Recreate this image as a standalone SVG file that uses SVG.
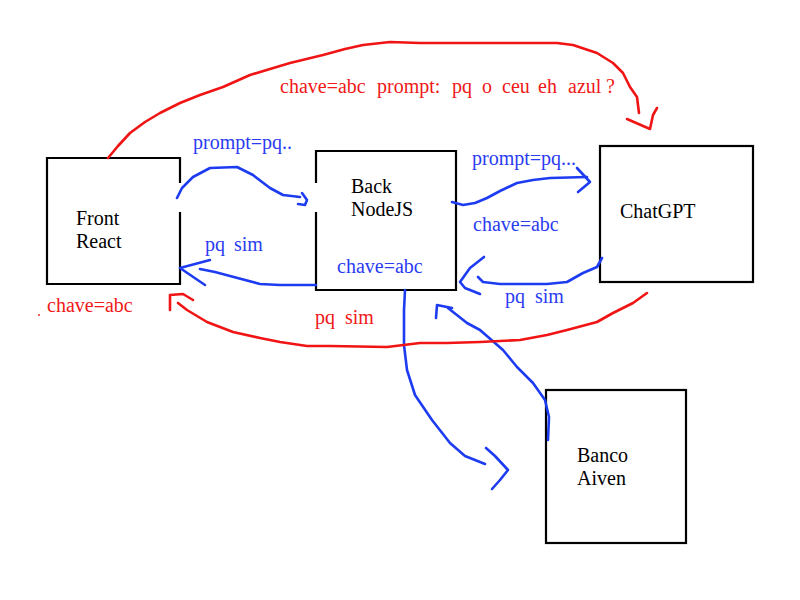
<svg xmlns="http://www.w3.org/2000/svg" width="800" height="600" viewBox="0 0 800 600">
<style>
.box{fill:none;stroke:#000;stroke-width:2.2}
.lbl{font-family:"Liberation Serif","Times New Roman",serif;font-size:20px;fill:#000}
.bt{font-family:"Liberation Serif","Times New Roman",serif;font-size:20px;fill:#2a3cf2}
.rt{font-family:"Liberation Serif","Times New Roman",serif;font-size:20px;fill:#f01818}
.b{fill:none;stroke:#1d3cf2;stroke-width:2.6;stroke-linecap:round;stroke-linejoin:round}
.r{fill:none;stroke:#f01414;stroke-width:2.6;stroke-linecap:round;stroke-linejoin:round}
</style>
<rect width="800" height="600" fill="#fff"/>
<g id="front">
<path class="box" d="M180,183 V158 H47 V284 H180 V212"/>
<text class="lbl" x="76" y="225">Front</text>
<text class="lbl" x="76" y="248">React</text>
</g>
<g id="back">
<path class="box" d="M316,183 V151 H456 V290 H316 V212"/>
<text class="lbl" x="351" y="193">Back</text>
<text class="lbl" x="351" y="216">NodeJS</text>
<text class="bt" x="337" y="273">chave=abc</text>
</g>
<g id="chatgpt">
<rect class="box" x="600" y="146" width="153" height="136"/>
<text class="lbl" x="620" y="218">ChatGPT</text>
</g>
<g id="banco">
<rect class="box" x="546" y="390" width="140" height="153"/>
<text class="lbl" x="577" y="462">Banco</text>
<text class="lbl" x="577" y="485">Aiven</text>
</g>
<g id="connectors">
<path class="r" d="M108,158 L118,146 L130,133 L145,122 L160,113 L180,103 L200,95 L223,87 L250,75 L270,69 L290,63 L323,55 L345,49 L363,45 L390,42 L420,43 L557,43 L573,45 L597,53 L613,63 L623,73 L630,87 L637,97 L639,113"/>
<path class="r" d="M627,119 L650,129 L653,115 L657,108"/>
<path class="b" d="M177,198 L182,188 L193,177 L210,168 L237,167 L253,175 L270,188 L283,195 L300,197"/>
<path class="b" d="M302,193 L307,200 L305,205 L298,204"/>
<path class="b" d="M316,285 L280,285 L260,284 L230,276 L215,272 L200,269"/>
<path class="b" d="M210,260 L180,268 L205,285"/>
<path class="b" d="M452,202 L463,205 L475,203 L487,198 L500,191 L517,183 L533,180 L550,178 L587,177"/>
<path class="b" d="M577,168 L590,182 L578,192"/>
<path class="b" d="M602,258 L597,267 L583,273 L567,282 L547,284 L500,284 L483,282 L478,277"/>
<path class="b" d="M484,257 L470,268 L460,282 L465,288 L480,294"/>
<path class="b" d="M405,290 L404,310 L404,345 L407,370 L415,395 L432,420 L450,443 L465,456 L485,464"/>
<path class="b" d="M486,448 L495,456 L508,470 L500,480 L492,489"/>
<path class="b" d="M548,440 L549,417 L545,400 L533,383 L517,367 L503,350 L480,330 L467,323 L448,308"/>
<path class="b" d="M436,318 L437,305 L452,308"/>
<path class="r" d="M647,293 L633,303 L613,313 L597,322 L567,330 L547,335 L520,340 L480,342 L447,343 L420,343 L387,347 L330,346 L307,346 L280,342 L260,338 L233,332 L207,322 L187,310 L178,303"/>
<path class="r" d="M170,310 L170,295 L183,294 L193,300"/>
</g>
<g id="labels">
<text class="bt" x="193" y="149">prompt=pq..</text>
<text class="bt" x="472" y="165">prompt=pq...</text>
<text class="bt" x="473" y="231">chave=abc</text>
<text class="bt" x="205" y="251">pq</text>
<text class="bt" x="234" y="251">sim</text>
<text class="bt" x="505" y="303">pq</text>
<text class="bt" x="535" y="303">sim</text>
<text class="rt" x="47" y="312">chave=abc</text>
<circle cx="39" cy="315" r="0.9" fill="#f01818"/>
<text class="rt" x="315" y="324">pq</text>
<text class="rt" x="345" y="324">sim</text>
<text class="rt" y="93"><tspan x="280">chave=abc</tspan><tspan x="377">prompt:</tspan><tspan x="452">pq</tspan><tspan x="482">o</tspan><tspan x="502">ceu</tspan><tspan x="538">eh</tspan><tspan x="568">azul</tspan><tspan x="606">?</tspan></text>
</g>
</svg>
